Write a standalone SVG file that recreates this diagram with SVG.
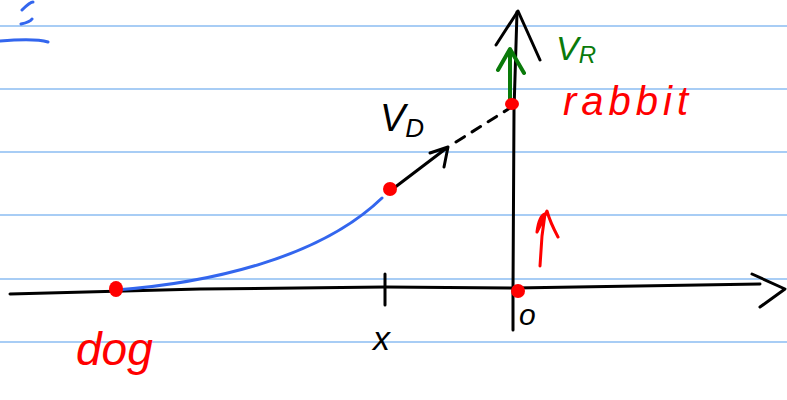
<svg xmlns="http://www.w3.org/2000/svg" width="787" height="400" viewBox="0 0 787 400">
<style>
.rule{stroke:#a8cdf5;stroke-width:2}
.ink{fill:none;stroke:#000;stroke-width:3;stroke-linecap:round;stroke-linejoin:round}
.red{fill:none;stroke:#f00;stroke-width:3;stroke-linecap:round;stroke-linejoin:round}
.green{fill:none;stroke:#0a7a0a;stroke-width:4;stroke-linecap:round;stroke-linejoin:round}
.blue{fill:none;stroke:#3366ee;stroke-width:3;stroke-linecap:round}
.dot{fill:#f00}
.lbl{font-family:"Liberation Sans",Arial,sans-serif;font-style:italic}
</style>
<rect width="787" height="400" fill="#fff"/>
<g id="ruling">
<line class="rule" x1="0" y1="26" x2="787" y2="26"/>
<line class="rule" x1="0" y1="89" x2="787" y2="89"/>
<line class="rule" x1="0" y1="152" x2="787" y2="152"/>
<line class="rule" x1="0" y1="215" x2="787" y2="215"/>
<line class="rule" x1="0" y1="279" x2="787" y2="279"/>
<line class="rule" x1="0" y1="342" x2="787" y2="342"/>
</g>
<g id="scribble">
<path class="blue" d="M22,10 Q30,2 33,2 M21,24 Q30,22 32,19 M0,41 Q35,38 48,42"/>
</g>
<g id="connectors">
<path id="x-axis" class="ink" d="M10,294 L200,289 L385,287 L515,288 L760,284"/>
<path class="ink" d="M752,274 L785,289 L760,307"/>
<path id="y-axis" class="ink" stroke-width="2.5" d="M513,330 L513,290 L514,110 L517,12"/>
<path class="ink" d="M496,45 L518,11 L540,60"/>
<line class="ink" x1="385" y1="274" x2="385" y2="305"/>
<path id="curve" class="blue" d="M116,290 C210,283 320,258 382,198"/>
<path id="vd-arrow" class="ink" d="M394,188 L448,147 M430,153 L448,147 L444,167"/>
<path id="dashed" class="ink" stroke-dasharray="10,9" d="M456,142 L510,108"/>
<path id="vr-arrow" class="green" d="M510,104 L510,50 M498,70 L510,49 L524,73"/>
<path id="red-arrow" class="red" d="M540,266 L542,236 L545,214 Q539,216 537,232 Q540,226 547,211 Q550,222 558,237"/>
</g>
<g id="dog">
<ellipse class="dot" cx="116" cy="289" rx="7" ry="8"/>
<text class="lbl" x="76" y="365" font-size="46" fill="#f00">dog</text>
</g>
<g id="pointD">
<ellipse class="dot" cx="390" cy="189" rx="7" ry="7"/>
<text class="lbl" x="380" y="131" font-size="38" fill="#000">V<tspan font-size="26" dy="6">D</tspan></text>
</g>
<g id="rabbit">
<ellipse class="dot" cx="512" cy="104" rx="7" ry="6"/>
<text class="lbl" x="563" y="115" font-size="40" fill="#f00" letter-spacing="5">rabbit</text>
<text class="lbl" x="556" y="60" font-size="34" fill="#0a7a0a">V<tspan font-size="24" dy="3">R</tspan></text>
</g>
<g id="origin">
<circle class="dot" cx="518" cy="291" r="7"/>
<text class="lbl" x="519" y="325" font-size="30" fill="#000">o</text>
</g>
<g id="xlabel">
<text class="lbl" x="373" y="350" font-size="34" fill="#000">x</text>
</g>
</svg>
